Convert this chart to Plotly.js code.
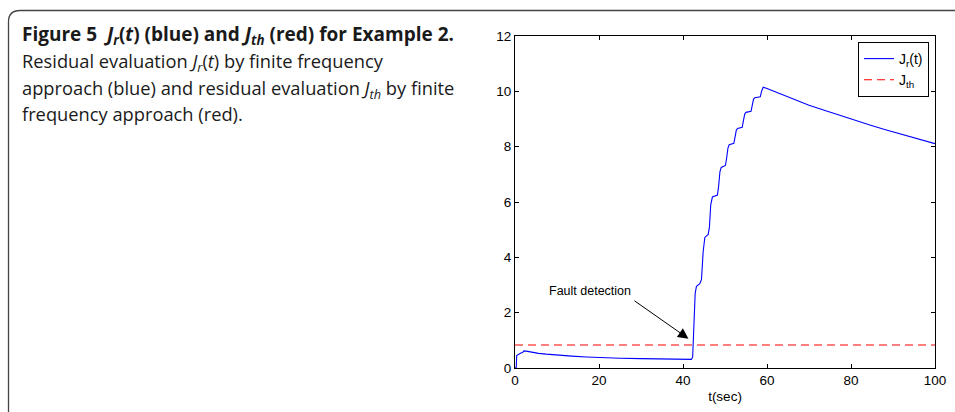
<!DOCTYPE html>
<html>
<head>
<meta charset="utf-8">
<script src="https://cdn.plot.ly/plotly-3.0.1.min.js"></script>
<style>
html,body{margin:0;padding:0;background:#fff;}
#chart{width:955px;height:412px;}
</style>
</head>
<body>
<div id="chart"></div>
<script>
// ---- data ----
const tTime = [0, 0.3, 0.4, 0.8, 1.4, 1.8, 2.1, 3, 4, 5.6, 7.5, 9.5, 13.5, 17, 21, 25, 30, 35, 40, 42.0,
  42.3, 42.6, 42.9, 43.2, 44.0, 44.4, 44.8, 45.2, 46.0, 46.3, 46.6, 47.0, 48.2, 48.5, 48.8, 49.1,
  50.1, 50.4, 50.7, 51.0, 52.1, 52.4, 52.7, 53.0, 54.1, 54.4, 54.7, 55.0, 56.2, 56.5, 56.8, 57.1,
  58.4, 58.7, 59.1, 60, 63, 66.5, 70, 74, 77.5, 81, 84.5, 88, 91.7, 96, 100];
const Jr = [0, 0.02, 0.45, 0.50, 0.54, 0.56, 0.62, 0.60, 0.57, 0.53, 0.50, 0.47, 0.43, 0.40, 0.37, 0.355, 0.34, 0.33, 0.32, 0.31,
  0.40, 1.50, 2.70, 2.95, 3.05, 3.20, 4.20, 4.72, 4.83, 5.10, 5.90, 6.18, 6.25, 6.60, 7.10, 7.25,
  7.32, 7.60, 7.95, 8.07, 8.12, 8.35, 8.60, 8.66, 8.70, 8.95, 9.18, 9.24, 9.28, 9.50, 9.72, 9.77,
  9.80, 10.00, 10.15, 10.10, 9.92, 9.70, 9.50, 9.30, 9.12, 8.95, 8.78, 8.62, 8.46, 8.28, 8.11];
const thTime = [0, 100];
const Jth = [0.83, 0.83];
const xTicks = [0, 20, 40, 60, 80, 100];
const yTicks = [0, 2, 4, 6, 8, 10, 12];
const seriesNames = ['J<sub>r</sub>(t)', 'J<sub>th</sub>'];
const xTitle = 't(sec)';
const annoText = 'Fault detection';
const annoPoint = [41.3, 1.06];
const annoTextPos = [17.9, 2.77];
const captionLines = [
  '<b>Figure 5  <i>J<sub>r</sub></i>(<i>t</i>) (blue) and <i>J<sub>th</sub></i> (red) for Example 2.</b>',
  'Residual evaluation <i>J<sub>r</sub></i>(<i>t</i>) by finite frequency',
  'approach (blue) and residual evaluation <i>J<sub>th</sub></i> by finite',
  'frequency approach (red).'
];

// ---- layout geometry (pixels) ----
const W = 955, H = 412;
const M = {l: 515, r: 20, t: 36, b: 44};
const PW = W - M.l - M.r, PH = H - M.t - M.b;
const px2x = p => (p - M.l) / PW;
const px2y = p => (H - M.b - p) / PH;

const font = 'Liberation Sans, Arial, Helvetica, sans-serif';
const capFont = 'Open Sans, sans-serif';

const traces = [
  {x: tTime, y: Jr, type: 'scatter', mode: 'lines', name: seriesNames[0],
   line: {color: '#0000ff', width: 1.1}},
  {x: thTime, y: Jth, type: 'scatter', mode: 'lines', name: seriesNames[1],
   line: {color: '#ff0000', width: 1.1, dash: '8px,5px'}}
];

const capY = [35, 62, 89, 113];
const capSize = [19, 18.3, 18.3, 18.3];
const annotations = captionLines.map((t, i) => ({
  xref: 'paper', yref: 'paper', x: px2x(20), y: px2y(capY[i]),
  xanchor: 'left', yanchor: 'middle', showarrow: false, align: 'left',
  text: t, font: {family: capFont, size: capSize[i], color: '#1a1a1a'}
}));
annotations.push({
  x: annoPoint[0], y: annoPoint[1], xref: 'x', yref: 'y', text: ' ',
  showarrow: true, arrowhead: 2, arrowsize: 2.1, arrowwidth: 1, arrowcolor: '#000',
  ax: -57, ay: -40, standoff: 0
});
annotations.push({
  x: annoTextPos[0], y: annoTextPos[1], xref: 'x', yref: 'y', text: annoText,
  showarrow: false, font: {family: font, size: 12.5, color: '#000'}
});

const layout = {
  width: W, height: H,
  margin: M,
  paper_bgcolor: '#fff', plot_bgcolor: '#fff',
  showlegend: true,
  legend: {
    x: px2x(929), y: px2y(42), xanchor: 'right', yanchor: 'top',
    bgcolor: '#fff', bordercolor: '#000', borderwidth: 1,
    font: {family: font, size: 14, color: '#000'},
    tracegroupgap: 0, itemwidth: 30
  },
  xaxis: {
    range: [0, 100], tickvals: xTicks, ticktext: xTicks.map(String),
    ticks: 'inside', ticklen: 4, tickcolor: '#000', tickwidth: 1,
    showline: true, linecolor: '#000', linewidth: 1, mirror: 'ticks',
    showgrid: false, zeroline: false,
    tickfont: {family: font, size: 13.5, color: '#000'},
    title: {text: xTitle, font: {family: font, size: 13.5, color: '#000'}, standoff: 4}
  },
  yaxis: {
    range: [0, 12], tickvals: yTicks, ticktext: yTicks.map(String),
    ticks: 'inside', ticklen: 4, tickcolor: '#000', tickwidth: 1,
    showline: true, linecolor: '#000', linewidth: 1, mirror: 'ticks',
    showgrid: false, zeroline: false,
    tickfont: {family: font, size: 13.5, color: '#000'}
  },
  annotations: annotations,
  shapes: [{
    type: 'path', xref: 'paper', yref: 'paper',
    path: `M ${px2x(8.5)} ${px2y(412)} L ${px2x(8.5)} ${px2y(22)} Q ${px2x(8.5)} ${px2y(10.5)} ${px2x(20)} ${px2y(10.5)} L ${px2x(960)} ${px2y(10.5)}`,
    line: {color: '#444', width: 1.3}
  }]
};

Plotly.newPlot('chart', traces, layout, {staticPlot: true, displayModeBar: false});
</script>
</body>
</html>
